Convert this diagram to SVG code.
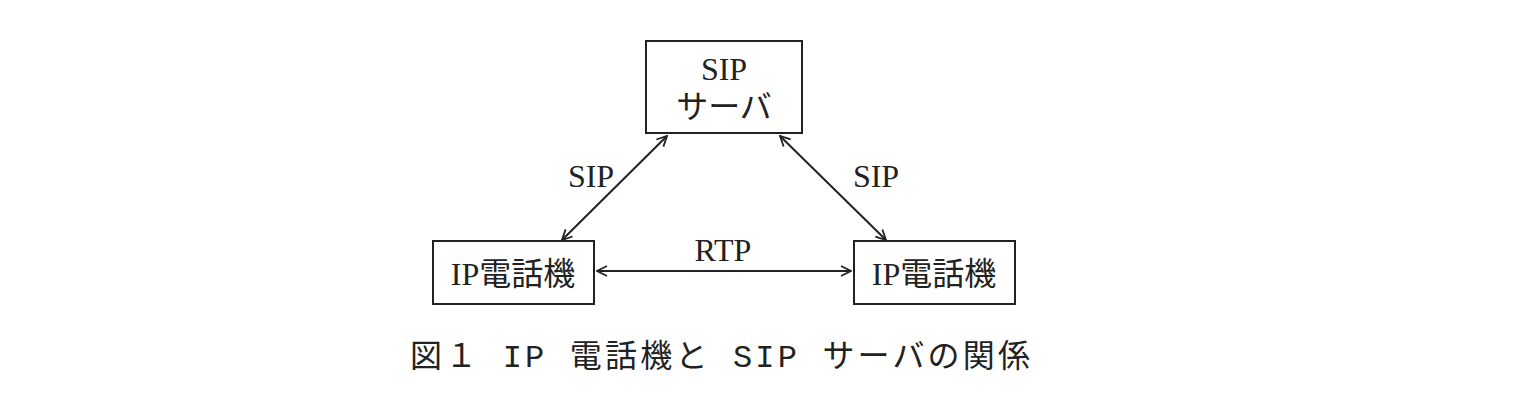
<svg xmlns="http://www.w3.org/2000/svg" width="1526" height="412" viewBox="0 0 1526 412">
<style>
.b{fill:#fff;stroke:#222;stroke-width:2}
.t{font-family:"Liberation Serif","Noto Sans CJK JP",serif;font-size:32px;fill:#222;text-anchor:middle}
.c{stroke:#222;stroke-width:2;fill:none;marker-start:url(#a);marker-end:url(#a)}
.cap{font-family:"Liberation Mono","Noto Sans CJK JP",monospace;font-size:32px;fill:#222}
</style>
<defs><marker id="a" viewBox="0 0 12 12" refX="11" refY="6" markerWidth="12" markerHeight="12" markerUnits="userSpaceOnUse" orient="auto-start-reverse"><path d="M1,1 L11,6 L1,11" fill="none" stroke="#222" stroke-width="1.8"/></marker></defs>
<rect width="1526" height="412" fill="#fff"/>
<g id="server"><rect class="b" x="646" y="41" width="156" height="92"/><text class="t" x="724" y="80">SIP</text><text class="t" x="724" y="118">サーバ</text></g>
<g id="phoneL"><rect class="b" x="433" y="241" width="161" height="63"/><text class="t" x="513" y="285">IP電話機</text></g>
<g id="phoneR"><rect class="b" x="854" y="241" width="161" height="63"/><text class="t" x="934" y="285">IP電話機</text></g>
<g id="connectors">
<line class="c" x1="667" y1="136" x2="562" y2="240"/>
<line class="c" x1="780" y1="136" x2="886" y2="240"/>
<line class="c" x1="597" y1="271" x2="851" y2="271"/>
<text class="t" x="591" y="187">SIP</text>
<text class="t" x="876" y="187">SIP</text>
<text class="t" x="723" y="261">RTP</text>
</g>
<text class="cap" x="410" y="367" textLength="620" lengthAdjust="spacing">図１  IP 電話機と SIP サーバの関係</text>
</svg>
